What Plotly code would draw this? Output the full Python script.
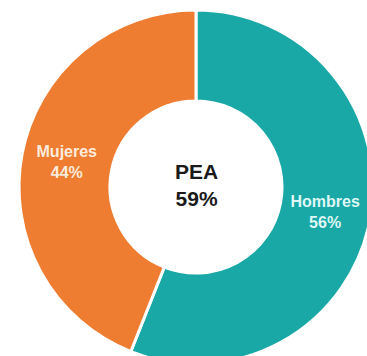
import plotly.graph_objects as go

labels = ["Hombres", "Mujeres"]
values = [56, 44]
colors = ["#19A8A5", "#EE7D31"]
text_colors = ["#dff7f5", "#fcebdc"]
center_title = "PEA"
center_value = "59%"

W, H = 392, 374
cx, cy, R = 196, 187, 177

fig = go.Figure(go.Pie(
    labels=labels,
    values=values,
    hole=0.486,
    sort=False,
    direction="clockwise",
    rotation=0,
    marker=dict(colors=colors, line=dict(color="white", width=3)),
    texttemplate="<b>%{label}<br>%{value}%</b>",
    textposition="inside",
    insidetextorientation="horizontal",
    textfont=dict(family="Liberation Sans, Arial", size=16, color=text_colors),
    domain=dict(x=[(cx - R) / W, (cx + R) / W], y=[1 - (cy + R) / H, 1 - (cy - R) / H]),
    showlegend=False,
))

fig.add_annotation(
    x=0.5, y=1 - (cy - 2) / H, xref="paper", yref="paper",
    text=f"<b>{center_title}<br>{center_value}</b>",
    showarrow=False,
    font=dict(family="Liberation Sans, Arial", size=21, color="#1a1a1a"),
)

fig.update_layout(
    width=W, height=H,
    margin=dict(l=0, r=0, t=0, b=0),
    paper_bgcolor="white",
    plot_bgcolor="white",
)

fig.write_html(
    "out.html",
    config={"displayModeBar": False},
    post_script="document.body.style.margin='0';document.body.style.overflow='hidden';document.documentElement.style.overflow='hidden';",
)
